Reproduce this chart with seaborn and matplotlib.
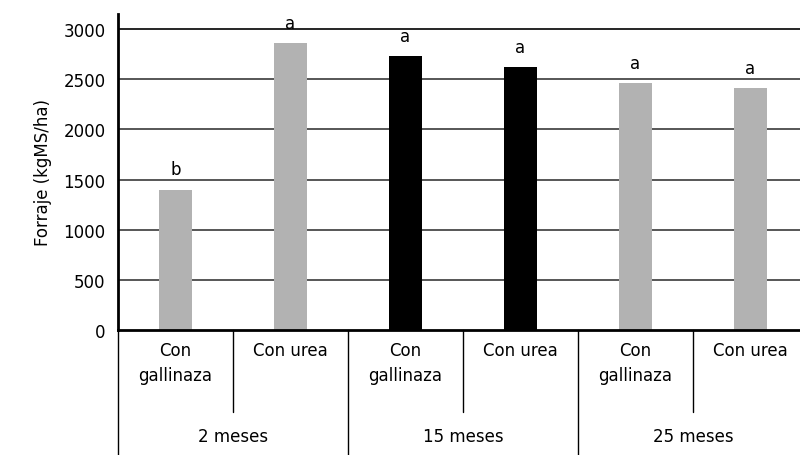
import matplotlib
matplotlib.use("Agg")
import matplotlib.pyplot as plt
import matplotlib.transforms as mtransforms
import seaborn as sns
import pandas as pd

# data
groups = ["2 meses", "15 meses", "25 meses"]
treatments = ["Con\ngallinaza", "Con urea"]
forraje = [1400, 2860, 2730, 2620, 2460, 2410]
letters = ["b", "a", "a", "a", "a", "a"]
bar_colors = ["#B2B2B2", "#B2B2B2", "#000000", "#000000", "#B2B2B2", "#B2B2B2"]

keys = [f"{g}|{t}" for g in groups for t in treatments]
df = pd.DataFrame({"key": keys, "forraje": forraje})

sns.set_style("white")
plt.rcParams["font.family"] = ["DejaVu Sans"]
plt.rcParams["text.color"] = "black"
plt.rcParams["axes.labelcolor"] = "black"
plt.rcParams["ytick.labelcolor"] = "black"

fig = plt.figure(figsize=(8, 4.56), dpi=100)
ax = fig.add_axes([118 / 800, 125 / 456, 690 / 800, 316 / 456])

sns.barplot(data=df, x="key", y="forraje", hue="key", palette=bar_colors,
            legend=False, width=0.28, saturation=1, linewidth=0, ax=ax)

ax.set_ylim(0, 3150)
ax.set_xlim(-0.5, len(keys) - 0.5)
ax.set_yticks(range(0, 3001, 500))
ax.tick_params(axis="y", labelsize=12, length=6, width=1, color="#333333",
               pad=3, labelcolor="black")
ax.set_xticks([])
ax.set_xlabel("")
ax.set_ylabel("Forraje (kgMS/ha)", fontsize=12, labelpad=8, color="black")
for y in range(500, 3001, 500):
    ax.axhline(y, color="#3a3a3a" if y < 3000 else "black", lw=1.2, zorder=0)

for s in ["top", "right"]:
    ax.spines[s].set_visible(False)
ax.spines["left"].set_linewidth(2)
ax.spines["left"].set_color("black")
ax.spines["bottom"].set_linewidth(2)
ax.spines["bottom"].set_color("black")

# letters above bars
for i, (v, l) in enumerate(zip(forraje, letters)):
    ax.annotate(l, (i, v), xytext=(0, 8), textcoords="offset points",
                ha="center", va="bottom", fontsize=12, color="black")

# hierarchical category axis
trans = mtransforms.blended_transform_factory(ax.transData, ax.transAxes)
for i in range(len(keys) + 1):
    bottom = -0.396 if i % 2 == 0 else -0.26
    ax.plot([i - 0.5, i - 0.5], [0, bottom], color="black", lw=1,
            transform=trans, clip_on=False)
for i, k in enumerate(keys):
    sub = k.split("|")[1]
    ax.text(i, -0.035, sub, transform=trans, ha="center", va="top",
            fontsize=12, linespacing=1.5, color="black")
for j, g in enumerate(groups):
    ax.text(2 * j + 0.5, -0.335, g, transform=trans, ha="center", va="center",
            fontsize=12, color="black")

fig.savefig("out.png", dpi=100)
